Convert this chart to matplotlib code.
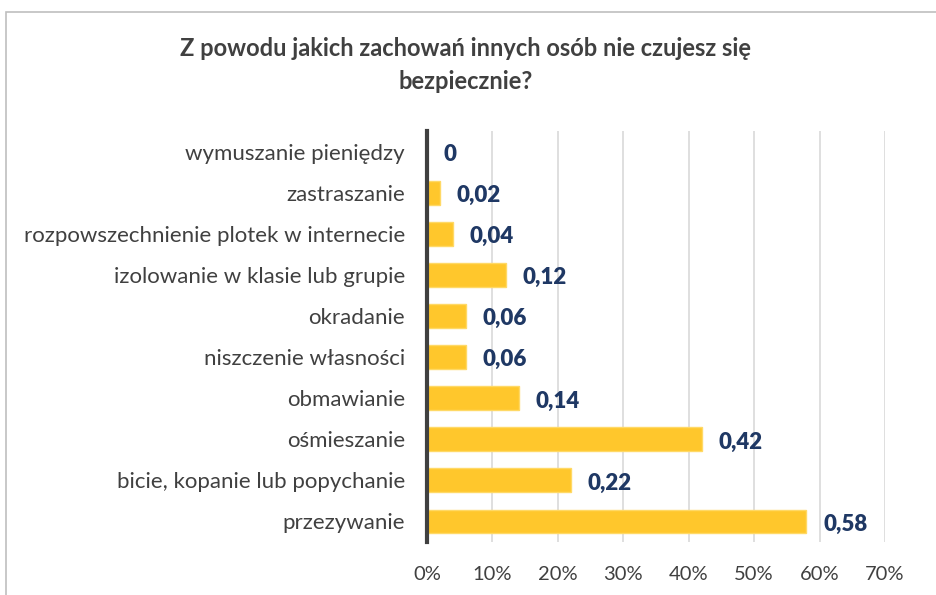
import matplotlib.pyplot as plt
from matplotlib.patches import Rectangle

# dane
kategorie = ["wymuszanie pieniędzy", "zastraszanie", "rozpowszechnienie plotek w internecie",
             "izolowanie w klasie lub grupie", "okradanie", "niszczenie własności",
             "obmawianie", "ośmieszanie", "bicie, kopanie lub popychanie", "przezywanie"]
wartosci = [0, 0.02, 0.04, 0.12, 0.06, 0.06, 0.14, 0.42, 0.22, 0.58]
etykiety = ["0", "0,02", "0,04", "0,12", "0,06", "0,06", "0,14", "0,42", "0,22", "0,58"]
ticki = [0, 0.1, 0.2, 0.3, 0.4, 0.5, 0.6, 0.7]
tick_etykiety = ["0%", "10%", "20%", "30%", "40%", "50%", "60%", "70%"]

plt.rcParams['font.family'] = ['Lato', 'DejaVu Sans']

fig = plt.figure(figsize=(9.36, 5.95), dpi=100)
W, H = 936, 595
ax = fig.add_axes([427 / W, 1 - 542 / H, (885 - 427) / W, (542 - 131) / H])

# ramka wykresu (przycięta jak na zrzucie)
fig.patches.append(Rectangle((6 / W, -0.1), 1.2, 1 - 12 / H + 0.1, transform=fig.transFigure,
                             fill=False, edgecolor='#BFBFBF', linewidth=1.2))

y = list(range(len(kategorie)))
ax.barh(y, wartosci, height=0.58, color='#FFC72C', edgecolor='#FFD966', linewidth=1, zorder=3)

for yi, v, t in zip(y, wartosci, etykiety):
    ax.annotate(t, (v, yi), xytext=(12, -2), textcoords='offset points', va='center', ha='left',
                fontsize=16, fontweight='heavy', color='#1F3864')

ax.set_yticks(y)
ax.set_yticklabels(kategorie, fontsize=16, color='#404040')
ax.set_ylim(len(kategorie) - 0.5, -0.5)
ax.set_xlim(0, 0.7)
ax.set_xticks(ticki)
ax.set_xticklabels(tick_etykiety, fontsize=14.5, color='#404040')
ax.tick_params(axis='both', length=0)
ax.tick_params(axis='y', pad=16)
ax.tick_params(axis='x', pad=17)

ax.grid(axis='x', color='#D9D9D9', linewidth=1.2, zorder=0)
for s in ['top', 'right', 'bottom']:
    ax.spines[s].set_visible(False)
ax.spines['left'].set_color('#404040')
ax.spines['left'].set_linewidth(3)
ax.spines['left'].set_zorder(4)

fig.text(466 / W, 1 - 65 / H, "Z powodu jakich zachowań innych osób nie czujesz się\nbezpiecznie?",
         ha='center', va='center', fontsize=17, fontweight='bold', color='#404040', linespacing=1.5)

fig.savefig('out.png', dpi=100)
